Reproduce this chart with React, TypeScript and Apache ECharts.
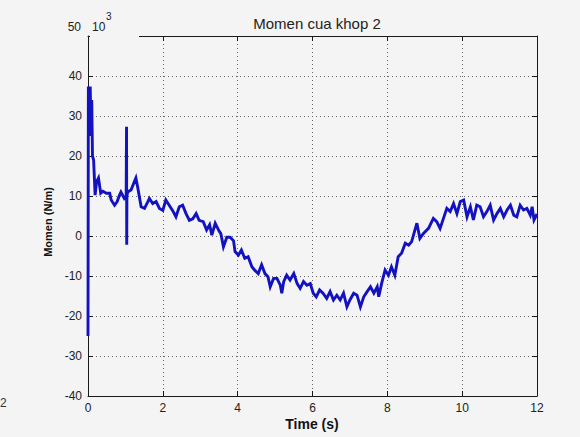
import React, { useEffect, useRef } from "react";
import * as echarts from "echarts";

const titleText = "Momen cua khop 2";
const xName = "Time (s)";
const yName = "Momen (N/m)";
const xTicks = [0, 2, 4, 6, 8, 10, 12];
const yTicks = [-40, -30, -20, -10, 0, 10, 20, 30, 40, 50];

const time = [
  0.0, 0.01, 0.06, 0.08, 0.1, 0.12, 0.15, 0.19, 0.23, 0.28, 0.34, 0.4, 0.49, 0.58, 0.62, 0.71, 0.78, 0.84, 0.88, 0.97,
  1.02, 1.03, 1.035, 1.04, 1.06, 1.15, 1.24, 1.28, 1.33, 1.42, 1.51, 1.6, 1.64, 1.73, 1.82, 1.91, 2.0, 2.08, 2.17, 2.26,
  2.35, 2.44, 2.53, 2.62, 2.71, 2.8, 2.89, 2.97, 3.08, 3.17, 3.25, 3.31, 3.4, 3.5, 3.55, 3.62, 3.71, 3.8, 3.89, 3.93,
  4.02, 4.1, 4.19, 4.28, 4.38, 4.46, 4.55, 4.64, 4.73, 4.81, 4.87, 4.96, 5.05, 5.14, 5.18, 5.23, 5.31, 5.4, 5.5, 5.59,
  5.67, 5.76, 5.85, 5.94, 6.02, 6.1, 6.19, 6.28, 6.38, 6.47, 6.56, 6.65, 6.74, 6.83, 6.92, 7.0, 7.1, 7.19, 7.28, 7.37,
  7.46, 7.55, 7.64, 7.73, 7.77, 7.85, 7.94, 8.03, 8.11, 8.2, 8.29, 8.38, 8.48, 8.57, 8.65, 8.79, 8.87, 8.96, 9.1, 9.23,
  9.32, 9.41, 9.5, 9.59, 9.68, 9.77, 9.86, 9.95, 10.04, 10.13, 10.22, 10.3, 10.39, 10.48, 10.57, 10.66, 10.75, 10.84,
  10.93, 11.02, 11.11, 11.2, 11.29, 11.38, 11.46, 11.55, 11.64, 11.73, 11.82, 11.87, 11.92, 12.0,
];

const moment = [
  -25, 37, 37, 25, 34, 20, 19, 10.2, 13.6, 14.5, 10.7, 11.2, 10.7, 10.7, 9, 7.7, 8.6, 10.2, 11, 9.4,
  10, 27.3, -2.2, 10, 11, 11.5, 13.6, 14.5, 12.1, 7.3, 6.9, 8.6, 9.4, 8.1, 8.6, 6.9, 6.4, 9, 7.7, 6.4,
  4.8, 7.3, 7.7, 5.6, 3.9, 4.3, 5.6, 3.9, 3.6, 1.5, 2.8, 0.2, 3.2, 1.3, 0.6, -2.7, -0.3, -0.3, -1.2, -3.9,
  -4.8, -3.5, -5.6, -5.2, -7.7, -8.6, -9.4, -7.2, -9.4, -10.2, -12.7, -10.6, -10.6, -12.3, -14.3, -11.4, -9.8, -11, -9.4, -11.9,
  -13.1, -11.4, -12.3, -11.9, -14.3, -15.2, -13.5, -14.3, -15.6, -13.9, -16, -14.8, -16, -14.3, -17.7, -16, -14.3, -14.8, -17.7, -15.2,
  -13.9, -12.7, -14.3, -12.7, -15.2, -11.8, -8.5, -9.8, -7.7, -9.8, -5.2, -4.3, -1.8, -2.3, -1.4, 3.2, -0.6, 0.6, 1.9, 4.4,
  3.6, 1.9, 4.4, 6.9, 6.1, 8.1, 5.6, 8.6, 9, 4.8, 7.3, 4, 7.7, 7.3, 4.8, 6.1, 7.7, 4,
  5.6, 6.9, 4.8, 6.5, 7.7, 5.2, 4.8, 7.7, 6.5, 6.9, 5.2, 7.3, 4, 5.5,
];

const BG = "#f4f4f4";
const FONT = "Liberation Sans, Arial, sans-serif";

export default function App() {
  const ref = useRef<HTMLDivElement>(null);
  useEffect(() => {
    if (!ref.current) return;
    const chart = echarts.init(ref.current, undefined, { renderer: "svg" });
    const data = time.map((t, i) => [t, moment[i]]);
    const axisLineStyle = { color: "#1a1a1a", width: 1 };
    const grid = { left: 88, right: 43, top: 36, bottom: 41 };
    chart.setOption({
      animation: false,
      backgroundColor: BG,
      title: {
        text: titleText,
        left: 312,
        textAlign: "center",
        top: 11,
        textStyle: { fontFamily: FONT, fontSize: 15, fontWeight: "normal", color: "#222" },
      },
      grid,
      xAxis: [
        {
          type: "value",
          min: xTicks[0],
          max: xTicks[xTicks.length - 1],
          interval: 2,
          position: "bottom",
          axisLine: { show: true, onZero: false, lineStyle: axisLineStyle },
          axisTick: { show: true, inside: true, length: 5, lineStyle: axisLineStyle },
          axisLabel: { margin: 6, color: "#222", fontSize: 12, fontFamily: FONT },
          splitLine: { show: true, lineStyle: { color: "#666", type: [1, 3], width: 1 } },
        },
        {
          type: "value",
          min: xTicks[0],
          max: xTicks[xTicks.length - 1],
          interval: 2,
          position: "top",
          axisLine: { show: true, onZero: false, lineStyle: axisLineStyle },
          axisTick: { show: true, inside: true, length: 5, lineStyle: axisLineStyle },
          axisLabel: { show: false },
          splitLine: { show: false },
        },
      ],
      yAxis: [
        {
          type: "value",
          min: yTicks[0],
          max: yTicks[yTicks.length - 1],
          interval: 10,
          position: "left",
          axisLine: { show: true, onZero: false, lineStyle: axisLineStyle },
          axisTick: { show: true, inside: true, length: 5, lineStyle: axisLineStyle },
          axisLabel: {
            margin: 6,
            color: "#222",
            fontSize: 12,
            fontFamily: FONT,
            formatter: (v: number) => (v === 50 ? "" : String(v)),
          },
          splitLine: { show: true, lineStyle: { color: "#666", type: [1, 3], width: 1 } },
        },
        {
          type: "value",
          min: yTicks[0],
          max: yTicks[yTicks.length - 1],
          interval: 10,
          position: "right",
          axisLine: { show: true, onZero: false, lineStyle: axisLineStyle },
          axisTick: { show: true, inside: true, length: 5, lineStyle: axisLineStyle },
          axisLabel: { show: false },
          splitLine: { show: false },
        },
      ],
      series: [
        {
          type: "line",
          data,
          xAxisIndex: 0,
          yAxisIndex: 0,
          showSymbol: false,
          symbol: "none",
          lineStyle: { color: "#1212c0", width: 2.9, join: "miter" },
          z: 5,
        },
      ],
      graphic: [
        {
          type: "rect",
          z: 100,
          shape: { x: 90, y: 30, width: 49, height: 12 },
          style: { fill: BG },
        },
        {
          type: "text",
          z: 101,
          x: 81,
          y: 27,
          style: { text: "50", align: "right", verticalAlign: "middle", fontSize: 12, fontFamily: FONT, fill: "#222" },
        },
        {
          type: "text",
          z: 101,
          x: 92,
          y: 27,
          style: { text: "10", align: "left", verticalAlign: "middle", fontSize: 12, fontFamily: FONT, fill: "#222" },
        },
        {
          type: "text",
          z: 101,
          x: 106,
          y: 16,
          style: { text: "3", align: "left", verticalAlign: "middle", fontSize: 10, fontFamily: FONT, fill: "#222" },
        },
        {
          type: "text",
          z: 101,
          x: 48,
          y: 222,
          rotation: Math.PI / 2,
          style: {
            text: yName,
            align: "center",
            verticalAlign: "middle",
            fontSize: 11,
            fontWeight: "bold",
            fontFamily: FONT,
            fill: "#111",
          },
        },
        {
          type: "text",
          z: 101,
          x: 312,
          y: 424,
          style: {
            text: xName,
            align: "center",
            verticalAlign: "middle",
            fontSize: 14,
            fontWeight: "bold",
            fontFamily: FONT,
            fill: "#111",
          },
        },
        {
          type: "text",
          z: 101,
          x: 0,
          y: 403,
          style: { text: "2", align: "left", verticalAlign: "middle", fontSize: 12, fontFamily: FONT, fill: "#333" },
        },
      ],
    });
    return () => chart.dispose();
  }, []);
  return (
    <div
      ref={ref}
      style={{ position: "absolute", left: 0, top: 0, width: 580, height: 437 }}
    />
  );
}
